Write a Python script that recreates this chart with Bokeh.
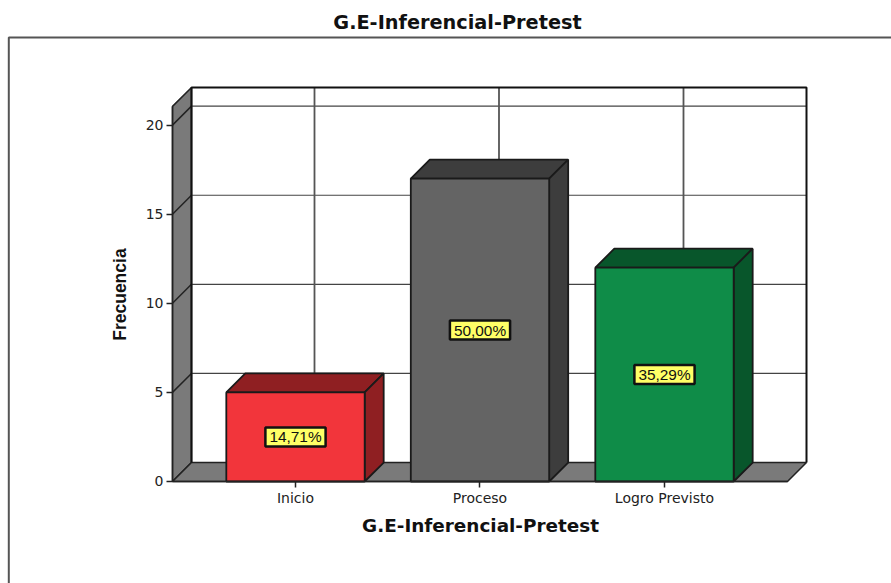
from bokeh.plotting import figure
from bokeh.embed import file_html
from bokeh.resources import INLINE
from bokeh.models import FixedTicker, Range1d, ColumnDataSource
from bokeh.core.properties import value

categories = ["Inicio", "Proceso", "Logro Previsto"]
counts = [5, 17, 12]
percent_labels = ["14,71%", "50,00%", "35,29%"]
front_colors = ["#f2353b", "#646464", "#0f8c48"]
dark_colors = ["#8f1f22", "#3d3d3d", "#08562b"]
y_ticks = [0, 5, 10, 15, 20]
main_title = "G.E-Inferencial-Pretest"
x_title = "G.E-Inferencial-Pretest"
y_title = "Frecuencia"

FONT = "Liberation Sans"
WIDE = "DejaVu Sans"
X0, X1 = 0.3333, 3.6667      # front floor extent
Y1 = 21.05                   # front wall height
DX, DY = 0.103, 1.064        # 3-D depth
BAR = 0.375                  # half bar width
XL, XR = -0.5989, 4.2304     # canvas extent in data units
YB, YT = -5.724, 26.992
positions = [1, 2, 3]

p = figure(width=891, height=583, output_backend="svg", toolbar_location=None,
           x_range=Range1d(XL, XR), y_range=Range1d(YB, YT),
           min_border=0, outline_line_color=None,
           background_fill_color="white", border_fill_color="white")
p.grid.visible = False

# axes, pinned to the front plane of the 3-D box
xa, ya = p.xaxis[0], p.yaxis[0]
xa.fixed_location = 0
ya.fixed_location = X0
xa.ticker = FixedTicker(ticks=positions)
xa.major_label_overrides = {i: c for i, c in zip(positions, categories)}
xa.bounds = (X0, X1)
ya.ticker = FixedTicker(ticks=y_ticks)
ya.bounds = (0, Y1)
for a in (xa, ya):
    a.axis_line_color = "#222222"
    a.axis_line_width = 1.5
    a.major_tick_line_color = "#222222"
    a.major_tick_line_width = 1.5
    a.major_tick_in = 0
    a.major_tick_out = 6
    a.minor_tick_line_color = None
    a.major_label_text_font = WIDE
    a.major_label_text_font_size = "14px"
    a.major_label_text_color = "#222222"
    a.major_label_standoff = 3

# outer chart frame (top and left edges)
frame_left, frame_top = XL + 0.045, YT - 2.08
p.line([frame_left, frame_left, XR], [YB, frame_top, frame_top], line_color="#555555", line_width=2)

# side wall and floor
wall = dict(fill_color="#7a7a7a", line_color="#222222", line_width=1.5)
p.patch([X0, X0 + DX, X0 + DX, X0], [0, DY, Y1 + DY, Y1], **wall)
p.patch([X0, X1, X1 + DX, X0 + DX], [0, 0, DY, DY], **wall)

# back wall grid
for t in y_ticks[1:]:
    p.line([X0 + DX, X1 + DX], [t + DY, t + DY], line_color="#444444", line_width=1.2)
for t in y_ticks[1:]:
    p.line([X0, X0 + DX], [t, t + DY], line_color="#222222", line_width=1.5)
for x in positions:
    p.line([x + DX, x + DX], [DY, Y1 + DY], line_color="#555555", line_width=1.8)

# back wall border
p.line([X0 + DX, X0 + DX, X1 + DX, X1 + DX], [DY, Y1 + DY, Y1 + DY, DY],
       line_color="#111111", line_width=2)

# bars
edge = dict(line_color="#1a1a1a", line_width=1.8)
for x, v, front, dark in zip(positions, counts, front_colors, dark_colors):
    l, r = x - BAR, x + BAR
    p.patch([l, r, r + DX, l + DX], [v, v, v + DY, v + DY], fill_color=dark, **edge)
    p.patch([r, r + DX, r + DX, r], [0, DY, v + DY, v], fill_color=dark, **edge)
    p.patch([l, r, r, l], [0, 0, v, v], fill_color=front, **edge)

# percentage labels
src = ColumnDataSource(dict(x=positions, y=[c / 2 for c in counts], t=percent_labels))
p.text("x", "y", text="t", source=src, text_font=value(FONT), text_font_size="15.4px",
       text_align="center", text_baseline="middle", text_color="#111111",
       background_fill_color="#ffff66", border_line_color="#111111", border_line_width=2.5,
       padding=(4, 1))

# titles
titles = dict(text_font=value(WIDE), text_font_style="bold", text_align="center",
              text_baseline="middle", text_color="#111111")
p.text([1.878], [25.77], text=[main_title], text_font_size="19.3px", **titles)
p.text([2.003], [-2.465], text=[x_title], text_font_size="18.4px", **titles)
p.text([0.0515], [10.49], text=[y_title], angle=[90], angle_units="deg",
       text_font=value(FONT), text_font_style="bold", text_align="center",
       text_baseline="middle", text_color="#111111", text_font_size="17.5px")

open("out.html", "w").write(file_html(p, INLINE))
